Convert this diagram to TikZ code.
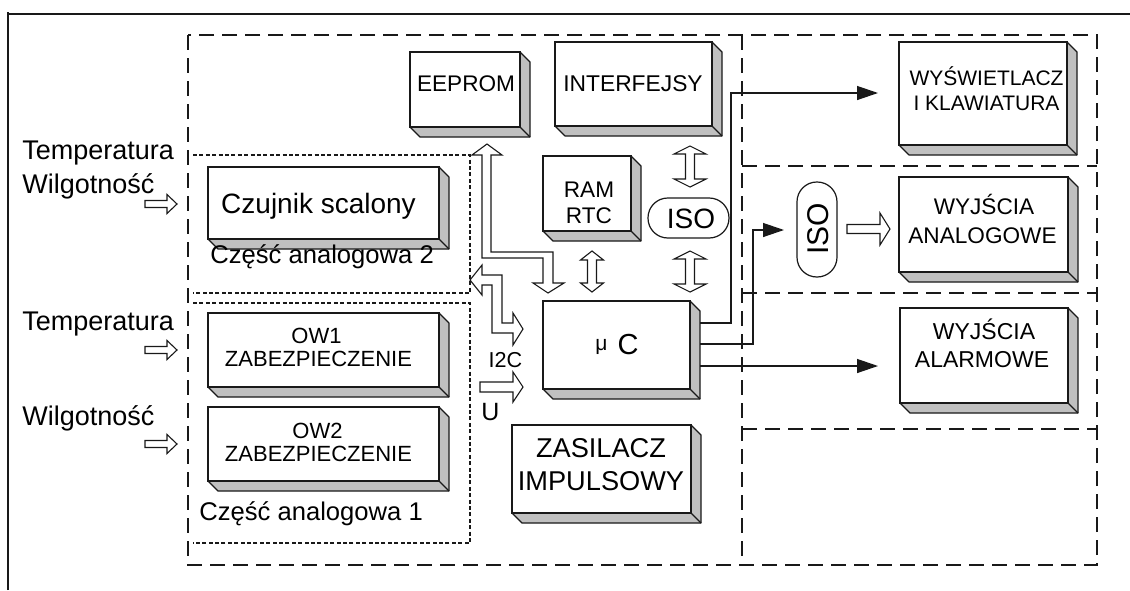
\documentclass[tikz,border=0pt]{standalone}
\usepackage{fontspec}
\setmainfont{Liberation Sans}
\usetikzlibrary{arrows.meta}
\definecolor{bevelgray}{RGB}{192,192,192}
\definecolor{ink}{RGB}{25,25,25}
\newcommand\fs[1]{\fontsize{#1}{#1}\selectfont}
\tikzset{
  face/.style={draw=ink, fill=white, line width=0.6pt},
  bevel/.style={draw=ink, fill=bevelgray, line width=0.6pt, line join=round},
  hollow/.style={draw=ink, fill=white, line width=0.55pt, line join=miter},
  bigdash/.style={draw=ink, line width=0.8pt, dash pattern=on 7.5pt off 4pt},
  smalldash/.style={draw=ink, line width=0.65pt, dash pattern=on 2pt off 1.2pt},
  wire/.style={draw=ink, line width=0.65pt, -{Triangle[length=10.5pt,width=7pt]}},
  lbl/.style={inner sep=0pt, anchor=base},
  lblw/.style={inner sep=0pt, anchor=base west},
}
% 3D box: name, x1, y1, x2, y2 (front face)
\newcommand\tdbox[5]{%
  \draw[bevel] (#4,#3) -- (#4+10,#3+10) -- (#4+10,#5+10) -- (#2+10,#5+10) -- (#2,#5) -- cycle;
  \draw[bevel] (#4,#5) -- (#4+10,#5+10);
  \draw[face] (#2,#3) rectangle (#4,#5);
  \coordinate (#1) at ({(#2+#4)/2},{(#3+#5)/2});
}
% hollow right arrow: xs, xbase, xtip, yc, half shaft, half head
\newcommand\harrowR[6]{%
  \draw[hollow] (#1,#4-#5) -- (#2,#4-#5) -- (#2,#4-#6) -- (#3,#4) -- (#2,#4+#6) -- (#2,#4+#5) -- (#1,#4+#5) -- cycle;
}
% hollow up-down arrow: xc, ytop, ybot, half shaft, half head, head length
\newcommand\harrowUD[6]{%
  \draw[hollow] (#1,#2) -- (#1+#5,#2+#6) -- (#1+#4,#2+#6) -- (#1+#4,#3-#6) -- (#1+#5,#3-#6) -- (#1,#3) -- (#1-#5,#3-#6) -- (#1-#4,#3-#6) -- (#1-#4,#2+#6) -- (#1-#5,#2+#6) -- cycle;
}
\begin{document}
\begin{tikzpicture}[x=0.5pt, y=-0.5pt]
\useasboundingbox (0,0) rectangle (1130,590);
\fill[white] (0,0) rectangle (1130,590);

% frame
\draw[ink, line width=1pt] (8,590) -- (8,12) -- (8,14) -- (1130,14);

% dashed regions
\draw[bigdash] (188,35) rectangle (1097,565);
\draw[bigdash] (742,35) -- (742,565);
\draw[bigdash] (742,166) -- (1097,166);
\draw[bigdash] (742,293) -- (1097,293);
\draw[bigdash] (742,429) -- (1097,429);

% dotted analog parts
\draw[smalldash] (193,155) -- (470,155) -- (470,293) -- (193,293);
\draw[smalldash] (193,303) -- (470,303) -- (470,543) -- (193,543);

% boxes
\tdbox{eeprom}{410}{52}{520}{127}
\tdbox{interf}{555}{42}{712}{126}
\tdbox{ram}{543}{156}{631}{231}
\tdbox{mc}{543}{301}{690}{389}
\tdbox{zas}{512}{425}{691}{513}
\tdbox{wysw}{899}{42}{1067}{145}
\tdbox{wyan}{899}{177}{1068}{272}
\tdbox{wyal}{900}{308}{1068}{403}
\tdbox{czuj}{208}{167}{439}{239}
\tdbox{ow1}{208}{313}{439}{387}
\tdbox{ow2}{208}{407}{439}{481}

% ISO pills
\draw[hollow, line width=0.6pt, rounded corners=9.9pt] (648,198) rectangle (729,238);
\node[inner sep=0pt, anchor=base, font=\fs{14}] (isoA) at (691,228) {ISO};
\draw[hollow, line width=0.6pt, rounded corners=9.9pt] (797,182) rectangle (837,277);
\node[inner sep=0pt, rotate=90, font=\fs{15}] (isoB) at (818,229) {ISO};

% box labels
\node[lbl, font=\fs{11.3}] (t-eeprom) at (466,91) {EEPROM};
\node[lbl, font=\fs{11.4}] (t-interf) at (633,91) {INTERFEJSY};
\node[lbl, font=\fs{11.3}] (t-ram) at (589,197) {RAM};
\node[lbl, font=\fs{11.3}] (t-rtc) at (589,223) {RTC};
\node[lbl, font=\fs{10.5}] (t-mu) at (601.5,350) {μ};
\node[lbl, font=\fs{14.5}] (t-c) at (628,354) {C};
\node[lbl, font=\fs{13.6}] (t-zas1) at (601,457) {ZASILACZ};
\node[lbl, font=\fs{13.6}] (t-zas2) at (601,490) {IMPULSOWY};
\node[lbl, font=\fs{10.5}] (t-wysw1) at (986.5,85) {WYŚWIETLACZ};
\node[lbl, font=\fs{10.5}] (t-wysw2) at (986.5,110) {I KLAWIATURA};
\node[lbl, font=\fs{11.3}] (t-wyan1) at (984,214) {WYJŚCIA};
\node[lbl, font=\fs{11.3}] (t-wyan2) at (982.5,243) {ANALOGOWE};
\node[lbl, font=\fs{11.5}] (t-wyal1) at (984,339) {WYJŚCIA};
\node[lbl, font=\fs{11.5}] (t-wyal2) at (982,367) {ALARMOWE};
\node[lbl, font=\fs{14}] (t-czuj) at (318.5,213) {Czujnik scalony};
\node[lbl, font=\fs{11}] (t-ow1a) at (316.5,343) {OW1};
\node[lbl, font=\fs{11}] (t-ow1b) at (318.5,366) {ZABEZPIECZENIE};
\node[lbl, font=\fs{11}] (t-ow2a) at (317.5,438) {OW2};
\node[lbl, font=\fs{11}] (t-ow2b) at (318.5,461) {ZABEZPIECZENIE};
\node[lblw, font=\fs{12.8}] (t-an2) at (210,263) {Część analogowa 2};
\node[lblw, font=\fs{12.8}] (t-an1) at (199,520) {Część analogowa 1};

% input labels
\node[lblw, font=\fs{13.5}] (in-t1) at (22,159) {Temperatura};
\node[lblw, font=\fs{13.5}] (in-w1) at (22,193) {Wilgotność};
\node[lblw, font=\fs{13.5}] (in-t2) at (22,330) {Temperatura};
\node[lblw, font=\fs{13.5}] (in-w2) at (22,425) {Wilgotność};
\node[lbl, font=\fs{10.8}] (t-i2c) at (505.5,367) {I2C};
\node[lblw, font=\fs{12.5}] (t-u) at (481,420) {U};

% input hollow arrows
\harrowR{145}{167}{177}{204}{3.5}{9.5}
\harrowR{145}{167}{177}{350}{3.5}{9.5}
\harrowR{145}{167}{177}{444}{3.5}{9.5}
% U arrow
\harrowR{480}{513}{523}{387}{5}{15}
% ISO -> WYJSCIA ANALOGOWE
\harrowR{847}{880}{890}{229}{4.5}{16}

% vertical double arrows
\harrowUD{592}{251}{292}{4.5}{11.5}{9}
\harrowUD{690}{146}{187}{4.5}{16}{8}
\harrowUD{690}{251}{292}{4.5}{16}{8}

% EEPROM bus
\draw[hollow] (487,144) -- (502,155) -- (491,155) -- (491,252) -- (553,252) -- (553,283)
  -- (564,283) -- (548,293) -- (533,283) -- (543,283) -- (543,258) -- (482,258)
  -- (482,155) -- (472,155) -- cycle;
% I2C bus between analog part and uC
\draw[hollow] (470,280) -- (482,265) -- (482,275) -- (502,275) -- (502,323) -- (513,323)
  -- (513,313) -- (523,329) -- (513,345) -- (513,333) -- (492,333) -- (492,285)
  -- (482,285) -- (482,295) -- cycle;

% solid output wires
\coordinate (mc-o1) at (700,323);
\coordinate (mc-o2) at (700,344);
\coordinate (mc-o3) at (700,366);
\coordinate (wysw-in) at (878,93);
\coordinate (isoB-in) at (784,230);
\coordinate (wyal-in) at (878,366);
\draw[wire] (mc-o1) -- (731,323) -- (731,93) -- (wysw-in);
\draw[wire] (mc-o2) -- (753,344) -- (753,230) -- (isoB-in);
\draw[wire] (mc-o3) -- (wyal-in);
\end{tikzpicture}
\end{document}
